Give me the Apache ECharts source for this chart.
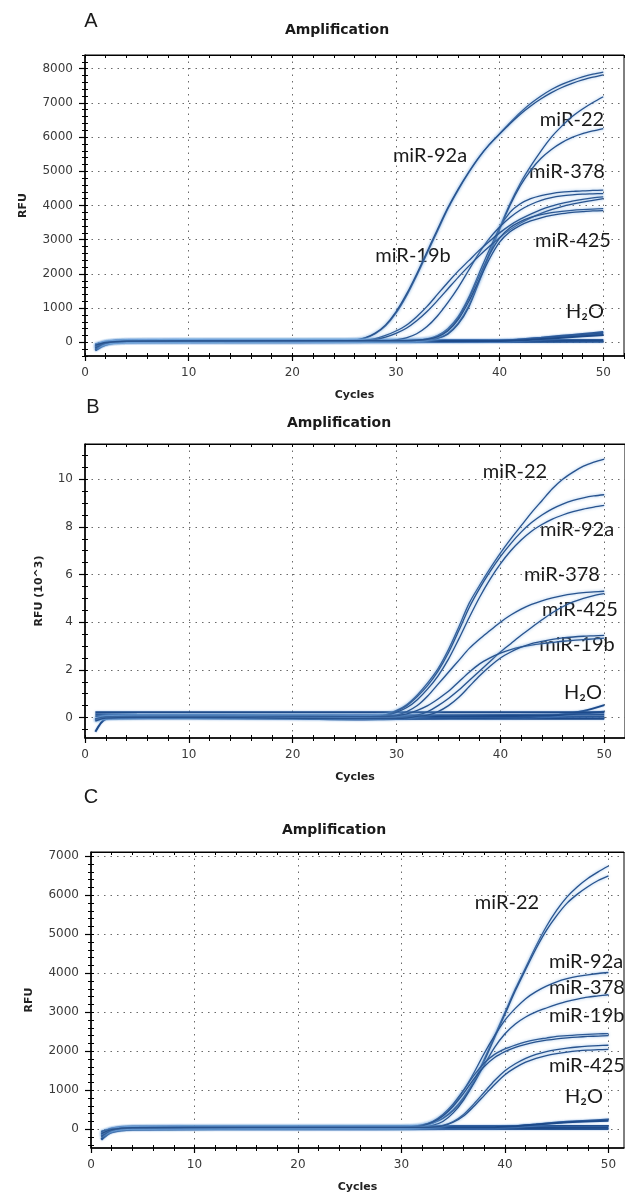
<!DOCTYPE html>
<html>
<head>
<meta charset="utf-8" />
<title>Amplification</title>
<script src="https://cdn.jsdelivr.net/npm/echarts@6.0.0/dist/echarts.min.js"></script>
<style>
  html, body { margin: 0; padding: 0; background: #fff; }
  #chart { width: 625px; height: 1198px; }
</style>
</head>
<body>
<div id="chart"></div>
<script type="text/javascript">
// tick labels
var cycleTicks = [0, 10, 20, 30, 40, 50];
var rfuTicksA = [0, 1000, 2000, 3000, 4000, 5000, 6000, 7000, 8000];
var rfuTicksB = [0, 2, 4, 6, 8, 10];
var rfuTicksC = [0, 1000, 2000, 3000, 4000, 5000, 6000, 7000];

// ---- panel A (RFU) ----
var aMiR92a_1 = [[1,-180],[2,-20],[4,30],[10,40],[20,40],[25,45],[26,60],[27,120],[28,250],[29,480],[30,850],[31,1350],[32,1950],[33,2600],[34,3250],[35,3900],[36,4450],[37,4950],[38,5400],[39,5780],[40,6100],[41,6420],[42,6720],[43,6980],[44,7200],[45,7390],[46,7540],[47,7660],[48,7760],[49,7840],[50,7900]];
var aMiR92a_2 = [[1,-100],[2,-10],[4,35],[10,45],[20,45],[25,50],[26,65],[27,130],[28,270],[29,510],[30,890],[31,1400],[32,2000],[33,2650],[34,3300],[35,3930],[36,4480],[37,4970],[38,5410],[39,5780],[40,6090],[41,6390],[42,6670],[43,6910],[44,7120],[45,7300],[46,7450],[47,7570],[48,7670],[49,7750],[50,7820]];
var aMiR22_1 = [[1,-150],[2,-20],[4,30],[15,40],[30,40],[32,50],[33,70],[34,120],[35,260],[36,560],[37,1060],[38,1800],[39,2600],[40,3350],[41,4050],[42,4650],[43,5150],[44,5600],[45,6000],[46,6320],[47,6600],[48,6820],[49,7010],[50,7180]];
var aMiR22_2 = [[1,-60],[2,0],[4,40],[15,50],[30,50],[32,55],[33,75],[34,115],[35,240],[36,530],[37,1010],[38,1750],[39,2550],[40,3300],[41,4000],[42,4580],[43,5030],[44,5380],[45,5640],[46,5840],[47,5990],[48,6100],[49,6180],[50,6250]];
var aMiR378_1 = [[1,-120],[2,-10],[4,30],[15,40],[31,45],[32,60],[33,100],[34,200],[35,400],[36,750],[37,1300],[38,2000],[39,2700],[40,3350],[41,3800],[42,4050],[43,4200],[44,4290],[45,4350],[46,4390],[47,4410],[48,4430],[49,4440],[50,4450]];
var aMiR378_2 = [[1,-80],[2,0],[4,35],[15,45],[29,45],[30,70],[31,130],[32,250],[33,460],[34,770],[35,1160],[36,1600],[37,2100],[38,2600],[39,3030],[40,3370],[41,3650],[42,3870],[43,4030],[44,4150],[45,4230],[46,4280],[47,4310],[48,4330],[49,4340],[50,4350]];
var aMiR19b_1 = [[1,-200],[2,-30],[4,25],[15,35],[25,40],[26,45],[27,60],[28,110],[29,200],[30,330],[31,500],[32,750],[33,1050],[34,1400],[35,1750],[36,2080],[37,2380],[38,2680],[39,2950],[40,3200],[41,3420],[42,3600],[43,3750],[44,3880],[45,3980],[46,4060],[47,4130],[48,4180],[49,4220],[50,4250]];
var aMiR19b_2 = [[1,-140],[2,-20],[4,30],[15,40],[26,45],[27,50],[28,80],[29,150],[30,260],[31,410],[32,630],[33,900],[34,1220],[35,1560],[36,1900],[37,2220],[38,2520],[39,2800],[40,3060],[41,3290],[42,3480],[43,3640],[44,3770],[45,3880],[46,3970],[47,4040],[48,4100],[49,4150],[50,4200]];
var aMiR425_1 = [[1,-160],[2,-20],[4,30],[15,40],[31,45],[32,55],[33,85],[34,170],[35,360],[36,710],[37,1260],[38,1900],[39,2550],[40,3050],[41,3350],[42,3530],[43,3650],[44,3730],[45,3790],[46,3830],[47,3860],[48,3880],[49,3895],[50,3910]];
var aMiR425_2 = [[1,-90],[2,-5],[4,35],[15,45],[31,50],[32,60],[33,90],[34,160],[35,330],[36,660],[37,1180],[38,1800],[39,2430],[40,2930],[41,3230],[42,3420],[43,3550],[44,3640],[45,3710],[46,3760],[47,3800],[48,3820],[49,3840],[50,3850]];
var aH2O_1 = [[1,-220],[2,-50],[4,15],[15,25],[30,25],[38,30],[40,45],[42,85],[44,135],[46,190],[48,245],[50,300]];
var aH2O_2 = [[1,-170],[2,-35],[4,20],[15,30],[30,30],[39,35],[41,55],[43,95],[45,145],[47,195],[50,255]];
var aH2O_3 = [[1,-120],[2,-20],[4,30],[20,35],[40,40],[42,60],[44,95],[46,135],[48,175],[50,215]];
var aBlank_1 = [[1,-240],[2,-70],[4,0],[20,5],[35,10],[50,15]];
var aBlank_2 = [[1,-60],[2,20],[4,60],[20,65],[35,65],[50,70]];
var aBlank_3 = [[1,-100],[2,0],[4,40],[20,45],[35,40],[50,45]];

// ---- panel B (RFU x 10^3) ----
var bMiR22 = [[1,-0.1],[2,0.02],[5,0.05],[15,0.05],[27,0.05],[28,0.07],[29,0.12],[30,0.3],[31,0.55],[32,0.95],[33,1.45],[34,2.05],[35,2.85],[36,3.8],[37,4.8],[38,5.55],[39,6.25],[40,6.9],[41,7.5],[42,8.05],[43,8.6],[44,9.1],[45,9.6],[46,10.0],[47,10.3],[48,10.55],[49,10.72],[50,10.85]];
var bMiR92a_1 = [[1,-0.12],[2,0.0],[5,0.04],[15,0.04],[27,0.04],[28,0.06],[29,0.1],[30,0.27],[31,0.5],[32,0.88],[33,1.35],[34,1.95],[35,2.72],[36,3.65],[37,4.62],[38,5.42],[39,6.12],[40,6.75],[41,7.3],[42,7.78],[43,8.18],[44,8.5],[45,8.76],[46,8.96],[47,9.11],[48,9.22],[49,9.3],[50,9.35]];
var bMiR92a_2 = [[1,-0.05],[2,0.03],[5,0.06],[15,0.06],[27,0.05],[28,0.06],[29,0.09],[30,0.22],[31,0.42],[32,0.75],[33,1.2],[34,1.75],[35,2.45],[36,3.3],[37,4.2],[38,5.05],[39,5.8],[40,6.45],[41,7.0],[42,7.45],[43,7.82],[44,8.1],[45,8.33],[46,8.5],[47,8.64],[48,8.75],[49,8.83],[50,8.9]];
var bMiR378 = [[1,-0.08],[2,0.02],[5,0.05],[15,0.04],[28,0.03],[29,0.05],[30,0.1],[31,0.25],[32,0.5],[33,0.9],[34,1.4],[35,1.9],[36,2.4],[37,2.9],[38,3.3],[39,3.65],[40,4.0],[41,4.3],[42,4.55],[43,4.75],[44,4.9],[45,5.02],[46,5.12],[47,5.19],[48,5.24],[49,5.27],[50,5.3]];
var bMiR425 = [[1,-0.1],[2,0.0],[5,0.03],[15,0.02],[25,-0.02],[30,0.0],[31,0.04],[32,0.1],[33,0.25],[34,0.5],[35,0.8],[36,1.15],[37,1.55],[38,1.95],[39,2.35],[40,2.75],[41,3.1],[42,3.45],[43,3.78],[44,4.1],[45,4.4],[46,4.65],[47,4.85],[48,5.0],[49,5.12],[50,5.2]];
var bMiR19b_1 = [[1,-0.06],[2,0.03],[5,0.05],[15,0.05],[28,0.04],[29,0.05],[30,0.07],[31,0.15],[32,0.3],[33,0.5],[34,0.78],[35,1.1],[36,1.5],[37,1.9],[38,2.25],[39,2.5],[40,2.7],[41,2.85],[42,2.96],[43,3.04],[44,3.1],[45,3.15],[46,3.2],[47,3.24],[48,3.27],[49,3.3],[50,3.33]];
var bMiR19b_2 = [[1,-0.15],[2,-0.03],[5,0.0],[15,-0.01],[25,-0.05],[30,-0.04],[31,-0.02],[32,0.05],[33,0.1],[34,0.25],[35,0.5],[36,0.85],[37,1.3],[38,1.75],[39,2.15],[40,2.5],[41,2.75],[42,2.95],[43,3.1],[44,3.2],[45,3.28],[46,3.34],[47,3.38],[48,3.41],[49,3.43],[50,3.45]];
var bH2O_1 = [[1,-0.08],[2,0.0],[5,0.03],[20,0.02],[28,0.0],[35,-0.02],[42,0.0],[44,0.05],[46,0.13],[48,0.27],[50,0.52]];
var bH2O_2 = [[1,0.05],[5,0.06],[20,0.05],[30,0.04],[40,0.06],[45,0.1],[48,0.17],[50,0.24]];
var bBlank_1 = [[1,-0.6],[2,-0.06],[4,0.0],[15,0.02],[30,0.02],[40,0.02],[50,0.03]];
var bBlank_2 = [[1,-0.1],[2,-0.04],[10,-0.03],[20,-0.05],[26,-0.08],[30,-0.06],[40,-0.05],[50,-0.05]];
var bBlank_3 = [[1,0.14],[5,0.12],[20,0.1],[35,0.1],[50,0.13]];
var bThreshold = [[1,0.22],[50,0.22]];

// ---- panel C (RFU) ----
var cMiR22_1 = [[1,-150],[2,-20],[4,40],[15,50],[30,50],[31,60],[32,90],[33,160],[34,290],[35,500],[36,820],[37,1250],[38,1800],[39,2400],[40,3000],[41,3600],[42,4150],[43,4700],[44,5200],[45,5620],[46,5960],[47,6220],[48,6430],[49,6600],[50,6750]];
var cMiR22_2 = [[1,-80],[2,0],[4,50],[15,60],[30,60],[31,70],[32,95],[33,160],[34,280],[35,480],[36,790],[37,1210],[38,1750],[39,2350],[40,2950],[41,3550],[42,4100],[43,4630],[44,5100],[45,5480],[46,5800],[47,6030],[48,6220],[49,6380],[50,6500]];
var cMiR92a = [[1,-100],[2,-10],[4,40],[15,50],[30,50],[31,70],[32,110],[33,190],[34,350],[35,620],[36,1000],[37,1450],[38,1950],[39,2400],[40,2800],[41,3100],[42,3350],[43,3530],[44,3670],[45,3780],[46,3860],[47,3920],[48,3960],[49,3995],[50,4020]];
var cMiR378 = [[1,-200],[2,-30],[4,30],[15,40],[31,45],[32,60],[33,100],[34,200],[35,420],[36,750],[37,1180],[38,1650],[39,2100],[40,2450],[41,2700],[42,2880],[43,3010],[44,3110],[45,3200],[46,3280],[47,3340],[48,3390],[49,3420],[50,3450]];
var cMiR19b_1 = [[1,-130],[2,-15],[4,35],[15,45],[30,50],[31,60],[32,100],[33,200],[34,380],[35,650],[36,1000],[37,1380],[38,1700],[39,1920],[40,2060],[41,2160],[42,2240],[43,2300],[44,2340],[45,2380],[46,2400],[47,2420],[48,2435],[49,2445],[50,2455]];
var cMiR19b_2 = [[1,-60],[2,10],[4,45],[15,55],[30,55],[31,60],[32,90],[33,180],[34,340],[35,590],[36,920],[37,1290],[38,1610],[39,1840],[40,1990],[41,2100],[42,2180],[43,2240],[44,2285],[45,2320],[46,2345],[47,2365],[48,2380],[49,2390],[50,2400]];
var cMiR425_1 = [[1,-180],[2,-25],[4,30],[15,40],[32,45],[33,60],[34,100],[35,200],[36,380],[37,650],[38,950],[39,1250],[40,1500],[41,1680],[42,1820],[43,1920],[44,1990],[45,2040],[46,2080],[47,2110],[48,2130],[49,2145],[50,2155]];
var cMiR425_2 = [[1,-110],[2,-10],[4,40],[15,50],[32,50],[33,55],[34,90],[35,180],[36,340],[37,590],[38,870],[39,1150],[40,1400],[41,1580],[42,1720],[43,1820],[44,1890],[45,1940],[46,1980],[47,2010],[48,2030],[49,2040],[50,2050]];
var cH2O_1 = [[1,-250],[2,-40],[4,30],[20,40],[38,45],[40,60],[42,100],[44,150],[46,190],[48,220],[50,250]];
var cH2O_2 = [[1,-180],[2,-30],[4,40],[20,50],[39,55],[41,80],[43,120],[45,160],[47,190],[50,220]];
var cBlank_1 = [[1,-120],[2,20],[4,70],[20,80],[50,85]];
var cBlank_2 = [[1,-270],[2,-80],[4,-10],[20,0],[35,5],[50,10]];
var cBlank_3 = [[1,-60],[2,10],[4,30],[25,20],[50,40]];

// minor tick positions
function steps(from, to, step) {
  var out = [];
  for (var v = from; v <= to + 1e-9; v += step) out.push(Math.round(v * 100) / 100);
  return out;
}
var cycleMinor = steps(0, 52, 2);

var panels = [
  { grid: { left: 85, top: 55, width: 539, height: 301 }, xMax: 52, yMin: -400, yMax: 8400,
    yMajor: rfuTicksA, yMinor: steps(-400, 8400, 200), yName: 'RFU', yNameGap: 56,
    bands: [aBlank_1, aBlank_2, aBlank_3, aH2O_1, aH2O_2, aH2O_3],
    curves: [aMiR92a_1, aMiR92a_2, aMiR22_1, aMiR22_2, aMiR378_1, aMiR378_2, aMiR19b_1, aMiR19b_2, aMiR425_1, aMiR425_2] },
  { grid: { left: 85, top: 444, width: 540, height: 294 }, xMax: 52, yMin: -0.86, yMax: 11.48,
    yMajor: rfuTicksB, yMinor: steps(-0.5, 11, 0.5), yName: 'RFU (10^3)', yNameGap: 40,
    bands: [bBlank_1, bBlank_2, bBlank_3, bH2O_1, bH2O_2, bThreshold],
    curves: [bMiR22, bMiR92a_1, bMiR92a_2, bMiR378, bMiR425, bMiR19b_1, bMiR19b_2] },
  { grid: { left: 91, top: 852, width: 533, height: 296 }, xMax: 51.5, yMin: -480, yMax: 7110,
    yMajor: rfuTicksC, yMinor: steps(-400, 7000, 200), yName: 'RFU', yNameGap: 56,
    bands: [cBlank_1, cBlank_2, cBlank_3, cH2O_1, cH2O_2],
    curves: [cMiR22_1, cMiR22_2, cMiR92a, cMiR378, cMiR19b_1, cMiR19b_2, cMiR425_1, cMiR425_2] }
];

var tickFont = 'DejaVu Sans';
var dots = { color: '#6a6a6a', width: 1, type: [1.5, 5] };
var grids = [], xAxes = [], yAxes = [], series = [];

panels.forEach(function (p, g) {
  grids.push(Object.assign({ show: true, borderColor: '#000', borderWidth: 1, backgroundColor: '#fff' }, p.grid));
  var xBase = { gridIndex: g, type: 'value', min: 0, max: p.xMax, position: 'bottom',
    axisLine: { show: false, onZero: false }, axisLabel: { show: false }, splitLine: { show: false } };
  xAxes.push(Object.assign({}, xBase, {
    axisLine: { show: true, onZero: false, lineStyle: { color: '#000', width: 1.5 } },
    axisTick: { show: true, length: 5, customValues: cycleTicks, lineStyle: { color: '#000', width: 1.2 } },
    axisLabel: { show: true, customValues: cycleTicks, color: '#3a3a3a', fontFamily: tickFont, fontSize: 12, margin: 11 },
    splitLine: { show: true, lineStyle: dots },
    name: 'Cycles', nameLocation: 'middle', nameGap: 34,
    nameTextStyle: { fontFamily: tickFont, fontWeight: 'bold', fontSize: 11, color: '#222' }
  }));
  xAxes.push(Object.assign({}, xBase, { axisTick: { show: true, inside: true, length: 3, customValues: cycleMinor, lineStyle: { color: '#000' } } }));
  xAxes.push(Object.assign({}, xBase, { axisTick: { show: true, inside: false, length: 3, customValues: cycleMinor, lineStyle: { color: '#000' } } }));
  xAxes.push(Object.assign({}, xBase, { position: 'top',
    axisLine: { show: true, onZero: false, lineStyle: { color: '#000', width: 1.2 } },
    axisTick: { show: true, inside: true, length: 3, customValues: cycleMinor, lineStyle: { color: '#000' } } }));

  var yBase = { gridIndex: g, type: 'value', min: p.yMin, max: p.yMax, position: 'left',
    axisLine: { show: false, onZero: false }, axisLabel: { show: false }, splitLine: { show: false } };
  yAxes.push(Object.assign({}, yBase, {
    axisLine: { show: true, onZero: false, lineStyle: { color: '#000', width: 1.5 } },
    axisTick: { show: true, length: 6, customValues: p.yMajor, lineStyle: { color: '#000', width: 1.2 } },
    axisLabel: { show: true, customValues: p.yMajor, color: '#3a3a3a', fontFamily: tickFont, fontSize: 12, margin: 12,
      formatter: function (v) { return String(v); } },
    splitLine: { show: true, lineStyle: dots },
    name: p.yName, nameLocation: 'middle', nameGap: p.yNameGap,
    nameTextStyle: { fontFamily: tickFont, fontWeight: 'bold', fontSize: 11, color: '#222' }
  }));
  yAxes.push(Object.assign({}, yBase, { axisTick: { show: true, inside: true, length: 3, customValues: p.yMinor, lineStyle: { color: '#000' } } }));
  yAxes.push(Object.assign({}, yBase, { axisTick: { show: true, inside: false, length: 3, customValues: p.yMinor, lineStyle: { color: '#000' } } }));

  p.bands.forEach(function (d) {
    series.push({ type: 'line', xAxisIndex: g * 4, yAxisIndex: g * 3, data: d, showSymbol: false, smooth: 0.3, silent: true,
      lineStyle: { color: '#1d4a8a', width: 2, shadowColor: 'rgba(110,160,220,0.7)', shadowBlur: 2 } });
  });
  p.curves.forEach(function (d) {
    series.push({ type: 'line', xAxisIndex: g * 4, yAxisIndex: g * 3, data: d, showSymbol: false, smooth: 0.3, silent: true,
      lineStyle: { color: '#28538e', width: 1.3, shadowColor: 'rgba(120,170,225,0.85)', shadowBlur: 3 } });
  });
});

function txt(text, x, y, font, align) {
  return { type: 'text', x: x, y: y, silent: true,
    style: { text: text, font: font, fill: '#1a1a1a', align: align || 'center', verticalAlign: 'middle' } };
}
var lab = '20px Lato';
var ttl = 'bold 14px "DejaVu Sans"';
var letter = '20px "Liberation Sans"';

var option = {
  animation: false,
  backgroundColor: '#fff',
  grid: grids, xAxis: xAxes, yAxis: yAxes, series: series,
  graphic: [
    txt('A', 91, 21, letter), txt('Amplification', 337, 30, ttl),
    txt('miR-92a', 430, 156, lab), txt('miR-22', 572, 120, lab), txt('miR-378', 567, 172, lab),
    txt('miR-425', 573, 241, lab), txt('miR-19b', 413, 256, lab), txt('H₂O', 585, 312, lab),

    txt('B', 93, 407, letter), txt('Amplification', 339, 423, ttl),
    txt('miR-22', 515, 472, lab), txt('miR-92a', 577, 530, lab), txt('miR-378', 562, 575, lab),
    txt('miR-425', 580, 610, lab), txt('miR-19b', 577, 645, lab), txt('H₂O', 583, 693, lab),

    txt('C', 91, 797, letter), txt('Amplification', 334, 830, ttl),
    txt('miR-22', 507, 903, lab), txt('miR-92a', 549, 962, lab, 'left'), txt('miR-378', 549, 988, lab, 'left'),
    txt('miR-19b', 549, 1016, lab, 'left'), txt('miR-425', 549, 1066, lab, 'left'), txt('H₂O', 584, 1097, lab)
  ]
};

var chart = echarts.init(document.getElementById('chart'));
chart.setOption(option);
</script>
</body>
</html>
